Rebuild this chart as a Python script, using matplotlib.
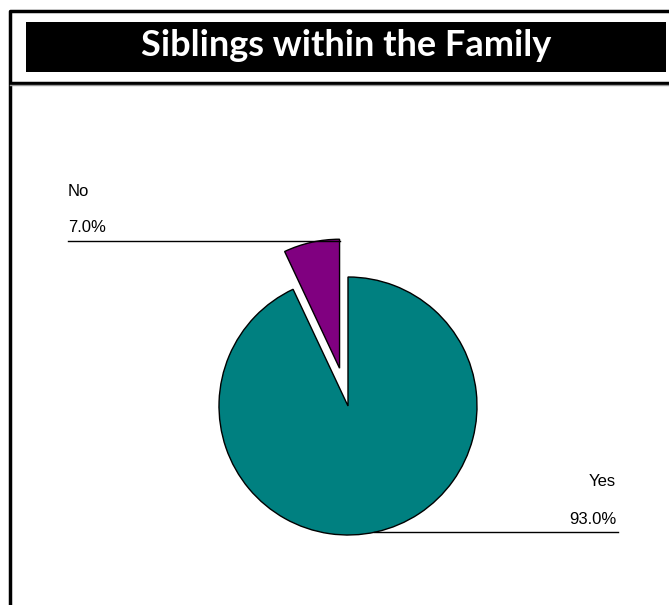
import matplotlib
matplotlib.use("Agg")
import matplotlib.pyplot as plt
from matplotlib.patches import Rectangle

# Survey answers
categories = ["Yes", "No"]
shares = [93.0, 7.0]
colors = ["#008080", "#800080"]
title = "Siblings within the Family"

W, H = 669, 605
fig = plt.figure(figsize=(W / 100, H / 100), dpi=100)
ax = fig.add_axes([0, 0, 1, 1])


def Y(y):
    """Convert a top-down pixel row to the axes' bottom-up coordinate."""
    return H - y


# Frame and title bar
ax.plot([10, 10, W], [Y(H), Y(11), Y(11)], color="black", lw=2.5, solid_capstyle="butt")
ax.plot([10, W], [Y(83), Y(83)], color="black", lw=2.5, solid_capstyle="butt")
ax.plot([10, W], [Y(85), Y(85)], color="#999999", lw=1)
ax.add_patch(Rectangle((26, Y(72)), 640, 50, facecolor="black", edgecolor="none"))
ax.text(346, Y(46), title, color="white", ha="center", va="center",
        fontsize=26, fontweight="bold", family="Lato")

# Pie with the "No" slice pulled out (pie offsets are in data units)
cx, cy, r = 348, 406, 129
explode_frac = [0.0, 0.30]
ax.pie(shares, colors=colors, startangle=90, counterclock=False,
       radius=r, center=(cx, Y(cy)), explode=[e * r for e in explode_frac],
       wedgeprops=dict(edgecolor="black", linewidth=1))

ax.set_xlim(0, W)
ax.set_ylim(0, H)
ax.set_aspect("equal")
ax.axis("off")

# Leader lines and labels
fs = 12
fam = "Liberation Sans"
ax.plot([68, 340], [Y(241), Y(241)], color="black", lw=1)
ax.text(68, Y(191), categories[1], ha="left", va="center", fontsize=fs, family=fam)
ax.text(68, Y(227), f"{shares[1]:.1f}%", ha="left", va="center", fontsize=fs, family=fam)

ax.plot([374, 618], [Y(532), Y(532)], color="black", lw=1)
ax.text(616, Y(481), categories[0], ha="right", va="center", fontsize=fs, family=fam)
ax.text(616, Y(519), f"{shares[0]:.1f}%", ha="right", va="center", fontsize=fs, family=fam)

fig.savefig("out.png", dpi=100)
